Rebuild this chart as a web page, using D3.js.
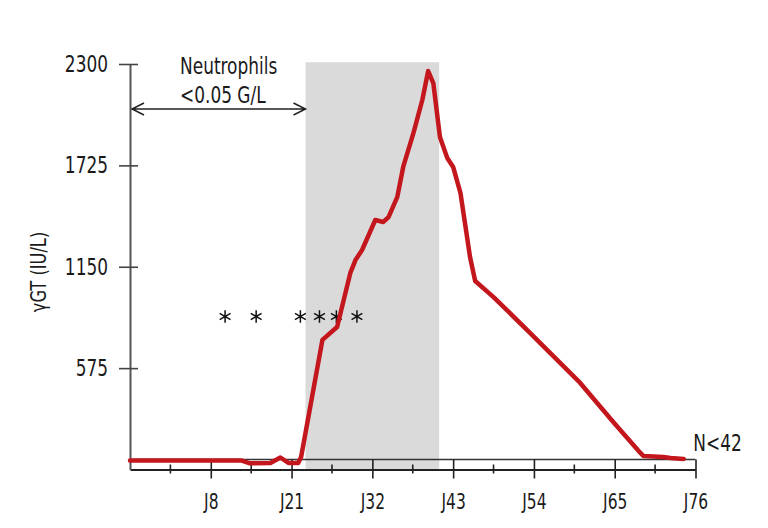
<!DOCTYPE html>
<html lang="en">
<head>
    <meta charset="UTF-8">
    <title>γGT over time</title>
    <script src="https://d3js.org/d3.v7.min.js"></script>
    <style>
        html, body {
            margin: 0;
            padding: 0;
            background-color: #ffffff;
        }
        svg text {
            font-family: "Liberation Sans Narrow", "Arial Narrow", "DejaVu Sans Condensed", sans-serif;
            fill: #1a1a1a;
        }
    </style>
</head>
<body>
    <div id="graph"></div>
    <script>
        // data: day (J) and γGT in IU/L
        const days = [-5, 13.0, 14.3, 17.6, 19.2, 20.5, 21.9, 22.3, 25.2, 27.2, 29.0, 29.7, 30.6,
            32.4, 33.5, 34.2, 35.4, 36.2, 37.6, 38.8, 39.6, 40.3, 41.2, 42.2, 43.0, 44.0, 45.3,
            46.0, 48.5, 53.5, 60.3, 64.8, 68.5, 68.9, 71.6, 72.6, 74.4];
        const ggt = [51, 51, 35, 37, 68, 37, 37, 71, 735, 808, 1115, 1188, 1245,
            1415, 1404, 1432, 1546, 1716, 1909, 2096, 2260, 2192, 1886, 1767, 1716, 1568, 1205,
            1069, 978, 774, 491, 269, 94, 77, 71, 65, 60];
        const xTickDays = [8, 21, 32, 43, 54, 65, 76];
        const xTickLabels = ["J8", "J21", "J32", "J43", "J54", "J65", "J76"];
        const xDomain = [-5, 8, 21, 32, 43, 54, 65, 76];
        const yTicks = [575, 1150, 1725, 2300];
        const starDays = [10.3, 15.3, 22.2, 24.8, 27.1, 29.9];
        const starValue = 868;
        const neutropeniaDays = [22.9, 41.1];

        const margin = {top: 64, left: 130, bottom: 58.5, right: 72.5};
        const W = 768, H = 528;
        const width = W - margin.left - margin.right;
        const height = H - margin.top - margin.bottom;
        const squeeze = 0.82;   // the source font is a condensed one

        const svg = d3.select("#graph")
            .append("svg")
            .attr("width", W)
            .attr("height", H);

        // piecewise scale, ticks are evenly spaced on the axis
        const x = d3.scaleLinear()
            .domain(xDomain)
            .range(xDomain.map((d, i) => margin.left + i * width / (xDomain.length - 1)));
        const y = d3.scaleLinear()
            .domain([0, 2300])
            .range([margin.top + height, margin.top]);

        // SHADED PERIOD
        svg.append("rect")
            .attr("x", x(neutropeniaDays[0]))
            .attr("y", y(2310))
            .attr("width", x(neutropeniaDays[1]) - x(neutropeniaDays[0]))
            .attr("height", y(0) - y(2310))
            .style("fill", "#dadada");

        // X AXIS (double line with ticks)
        const y0 = y(0);
        svg.append("line")
            .attr("x1", x(-5)).attr("x2", x(76))
            .attr("y1", y0 - 10).attr("y2", y0 - 10)
            .style("stroke", "#333").style("stroke-width", 1.4);

        const xAxis = d3.axisBottom(x)
            .tickValues(xTickDays)
            .tickFormat((d, i) => xTickLabels[i])
            .tickSizeOuter(0);
        const gx = svg.append("g")
            .attr("transform", `translate(0, ${y0})`)
            .call(xAxis);
        gx.select(".domain").style("stroke", "#222").style("stroke-width", 1.8);
        gx.selectAll(".tick line")
            .attr("y1", -10).attr("y2", 9)
            .style("stroke", "#222").style("stroke-width", 1.6);
        gx.selectAll(".tick text")
            .attr("y", 25)
            .attr("transform", `scale(${squeeze}, 1)`)
            .style("font-size", "21px");

        const minorDays = xDomain.slice(0, -1).map((d, i) => (d + xDomain[i + 1]) / 2);
        svg.append("g")
            .selectAll("line")
            .data(minorDays).enter()
            .append("line")
            .attr("x1", (d) => x(d)).attr("x2", (d) => x(d))
            .attr("y1", y0 - 5).attr("y2", y0 + 4)
            .style("stroke", "#222").style("stroke-width", 1.6);

        // Y AXIS
        const yAxis = d3.axisLeft(y)
            .tickValues(yTicks)
            .tickFormat(d3.format("d"))
            .tickSize(11)
            .tickSizeOuter(0)
            .tickPadding(11);
        const gy = svg.append("g")
            .attr("transform", `translate(${margin.left}, 0)`)
            .call(yAxis);
        gy.select(".domain").style("stroke", "#555").style("stroke-width", 2);
        gy.selectAll(".tick line")
            .attr("x1", 8)
            .style("stroke", "#444").style("stroke-width", 1.6);
        gy.selectAll(".tick text")
            .attr("x", -22 / squeeze)
            .attr("transform", `scale(${squeeze}, 1)`)
            .style("font-size", "23px");

        svg.append("text")
            .attr("transform", `translate(46, 272) rotate(-90) scale(${squeeze}, 1)`)
            .attr("text-anchor", "middle")
            .style("font-size", "22px")
            .text("γGT (IU/L)");

        // NEUTROPHILS ARROW
        const arrowY = y(2045);
        const ax1 = x(-5) + 2, ax2 = x(neutropeniaDays[0]);
        svg.append("path")
            .attr("d", `M${ax1},${arrowY}H${ax2}` +
                `M${ax1 + 12},${arrowY - 6}L${ax1},${arrowY}L${ax1 + 12},${arrowY + 6}` +
                `M${ax2 - 12},${arrowY - 6}L${ax2},${arrowY}L${ax2 - 12},${arrowY + 6}`)
            .style("fill", "none")
            .style("stroke", "#222")
            .style("stroke-width", 1.5);

        const note = svg.append("text")
            .attr("transform", `translate(${x(3.05)}, ${y(2243)}) scale(${squeeze}, 1)`)
            .style("font-size", "23px");
        note.append("tspan").text("Neutrophils");
        note.append("tspan").attr("x", 0).attr("dy", 28.5).text("<0.05 G/L");

        // NORMAL LIMIT LABEL
        svg.append("text")
            .attr("transform", `translate(${x(75.7)}, ${y(105)}) scale(${squeeze}, 1)`)
            .style("font-size", "23px")
            .text("N<42");

        // ASTERISKS
        svg.append("g")
            .selectAll("path")
            .data(starDays).enter()
            .append("path")
            .attr("transform", (d) => `translate(${x(d)}, ${y(starValue)})`)
            .attr("d", d3.symbol(d3.symbolAsterisk, 110))
            .style("fill", "none")
            .style("stroke", "#111")
            .style("stroke-width", 1.5);

        // γGT LINE
        const line = d3.line()
            .x((d, i) => x(days[i]))
            .y((d) => y(d));
        svg.append("path")
            .datum(ggt)
            .attr("d", line)
            .style("fill", "none")
            .style("stroke", "#c3161d")
            .style("stroke-width", 4.5)
            .style("stroke-linejoin", "round")
            .style("stroke-linecap", "round");
    </script>
</body>
</html>
